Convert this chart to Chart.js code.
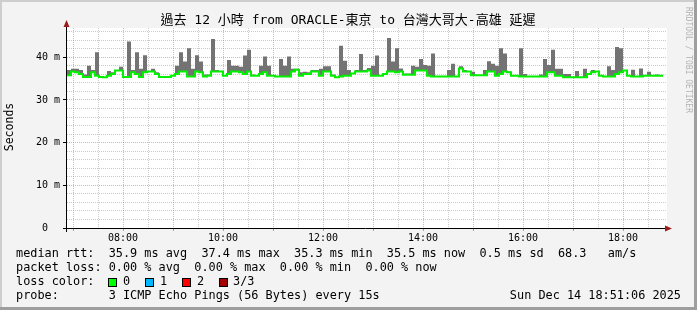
<!DOCTYPE html>
<html><head><meta charset="utf-8">
<script src="https://cdn.jsdelivr.net/npm/chart.js@4/dist/chart.umd.min.js"></script>
<style>html,body{margin:0;padding:0;background:#f3f3f3;}#wrap{width:697px;height:310px;}canvas{display:block;}</style>
</head><body><div id="wrap"><canvas id="c" width="697" height="310"></canvas></div>
<script>
// time axis (hours of day)
const startHour = 6.88;
const endHour = 18.88;
const binHours = 0.08;
// median RTT per bin (ms)
const medianRtt = [
35.8,36.7,36.5,36.1,35.4,35.4,36.5,35.7,35.4,35.3,
35.7,36.1,36.9,36.9,35.4,35.4,36.5,36.1,35.4,36.5,
36.7,36.7,36.1,35.4,35.4,35.4,35.7,36.1,36.7,36.7,
35.5,35.5,36.7,36.5,35.5,35.7,36.7,36.7,36.7,35.7,
36.1,36.7,36.7,36.5,36.1,36.7,35.7,35.7,36.1,36.5,
35.7,35.7,35.5,35.5,35.5,35.5,36.7,37.1,35.7,36.1,
36.1,36.7,36.7,35.7,36.7,36.7,35.7,35.3,35.5,35.7,
35.7,36.2,36.7,36.7,36.7,36.9,35.7,35.7,35.7,36.1,
36.7,36.7,36.5,36.7,35.9,35.9,35.9,36.9,36.9,36.9,
35.7,35.5,35.5,35.5,35.5,35.5,35.5,35.5,37.4,36.7,
36.7,35.8,35.8,35.8,35.8,36.7,36.7,35.7,36.1,36.7,
36.5,35.7,35.7,35.5,35.5,35.5,35.5,35.5,35.5,35.5,
36.5,36.5,35.7,35.7,35.3,35.3,35.3,35.3,35.3,35.3,
36.1,36.5,36.7,35.7,35.5,35.5,35.5,36.1,36.5,36.9,
35.7,35.5,35.5,35.5,35.7,35.7,35.7,35.7,35.7
];
// max RTT per bin (ms) - top of the smoke
const maxRtt = [
37.0,37.3,37.3,37.0,36.0,38.0,37.0,41.2,35.4,35.3,
36.8,36.5,37.0,37.8,35.4,43.7,37.0,41.2,37.3,40.5,
36.7,37.3,36.5,35.5,35.4,35.4,35.8,38.0,41.2,39.0,
42.1,37.3,40.5,39.0,36.0,36.0,44.3,37.0,36.7,35.8,
39.4,38.0,38.0,37.8,40.4,41.8,36.0,35.7,38.0,40.2,
38.0,35.7,35.5,39.6,38.0,40.2,37.3,37.3,36.5,36.6,
36.5,37.0,37.0,37.3,37.9,37.9,36.0,35.3,42.7,39.2,
37.0,36.3,37.0,40.8,37.0,37.5,38.0,40.4,35.7,36.1,
44.5,39.0,42.1,37.4,36.2,36.2,38.0,37.8,39.6,38.2,
38.0,40.9,35.5,35.5,35.6,37.0,38.5,35.5,37.9,37.0,
36.7,36.6,35.8,35.8,37.0,39.1,38.5,38.0,42.1,40.9,
36.7,35.7,35.7,42.1,36.1,35.5,35.5,35.5,36.0,39.6,
38.2,41.8,37.3,37.3,36.1,36.1,35.3,36.8,35.3,37.3,
36.1,37.0,36.7,35.7,35.5,37.9,37.0,42.4,42.1,37.0,
35.7,37.1,35.5,37.4,35.7,36.6,35.7,36.0,35.7
];
const yMax = 46.87;
const yGridTicks = [0,2,4,6,8,10,12,14,16,18,20,22,24,26,28,30,32,34,36,38,40,42,44,46];
const yMajorTicks = [0,10,20,30,40];
const yLabels = {0:'0  ',10:'10 m',20:'20 m',30:'30 m',40:'40 m'};
const xGridTicks = [7,7.5,8,8.5,9,9.5,10,10.5,11,11.5,12,12.5,13,13.5,14,14.5,15,15.5,16,16.5,17,17.5,18,18.5];
const xLabelHours = [8,10,12,14,16,18];

const titleText = '過去 12 小時 from ORACLE-東京 to 台灣大哥大-高雄 延遲';
const legendLines = [
 'median rtt:  35.9 ms avg  37.4 ms max  35.3 ms min  35.5 ms now  0.5 ms sd  68.3   am/s',
 'packet loss: 0.00 % avg  0.00 % max  0.00 % min  0.00 % now',
 'loss color:',
 'probe:       3 ICMP Echo Pings (56 Bytes) every 15s'
];
const lossLabels = ['0','1','2','3/3'];
const lossColors = ['#00ff00','#00b8ff','#ff0000','#a00000'];
const stampText = 'Sun Dec 14 18:51:06 2025';

const GRID = 'rgba(140,140,140,0.45)';
const MGRID = 'rgba(210,70,70,0.45)';
const MONO = '"DejaVu Sans Mono", "Noto Sans CJK TC", monospace';

function steps(vals){
  const pts=[];
  vals.forEach((v,i)=>{const t=startHour+i*binHours; pts.push({x:t,y:v},{x:t+binHours,y:v});});
  return pts;
}
function near(a,b){return Math.abs(a-b)<1e-6;}

const deco = {
  id:'deco',
  beforeDraw(chart){
    const c=chart.ctx, a=chart.chartArea;
    c.save();
    c.fillStyle='#f3f3f3'; c.fillRect(0,0,697,310);
    c.fillStyle='#cecece'; c.fillRect(0,0,697,2); c.fillRect(0,0,2,310);
    c.fillStyle='#9e9e9e'; c.fillRect(694,0,3,310); c.fillRect(0,307,697,3);
    c.fillStyle='#ffffff'; c.fillRect(a.left,a.top,a.right-a.left,a.bottom-a.top);
    c.restore();
  },
  afterDraw(chart){
    const c=chart.ctx, a=chart.chartArea;
    c.save();
    c.strokeStyle='#000'; c.lineWidth=1;
    c.beginPath(); c.moveTo(66.5,a.bottom+4); c.lineTo(66.5,a.top-3); c.stroke();
    c.beginPath(); c.moveTo(63,a.bottom+0.5); c.lineTo(a.right+1,a.bottom+0.5); c.stroke();
    c.fillStyle='#9b1c1c';
    c.beginPath(); c.moveTo(66.5,20); c.lineTo(63.5,27); c.lineTo(69.5,27); c.closePath(); c.fill();
    c.beginPath(); c.moveTo(672,a.bottom+0.5); c.lineTo(665,a.bottom-2.5); c.lineTo(665,a.bottom+3.5); c.closePath(); c.fill();
    c.fillStyle='#000'; c.font='13px '+MONO; c.textAlign='center'; c.textBaseline='middle';
    c.fillText(titleText,348,21);
    c.save(); c.translate(10.5,127); c.rotate(-Math.PI/2);
    c.font='11.5px '+MONO; c.fillText('Seconds',0,0); c.restore();
    c.save(); c.translate(688,60); c.rotate(Math.PI/2);
    c.font='8px '+MONO; c.fillStyle='#b4b4b4'; c.fillText('RRDTOOL / TOBI OETIKER',0,0); c.restore();
    c.font='11.85px '+MONO; c.textAlign='left'; c.fillStyle='#000';
    const ys=[254,268,282,296];
    legendLines.forEach((t,i)=>c.fillText(t,16,ys[i]));
    const bx=[108,145,182,219], lx=[123,160,197,233];
    lossColors.forEach((col,i)=>{
      c.fillStyle=col; c.fillRect(bx[i],278,8,8);
      c.strokeStyle='#000'; c.strokeRect(bx[i]+0.5,278.5,8,8);
      c.fillStyle='#000'; c.fillText(lossLabels[i],lx[i],282);
    });
    c.textAlign='right'; c.fillText(stampText,681,296);
    c.restore();
  }
};

new Chart(document.getElementById('c'),{
  type:'line',
  data:{datasets:[
    {label:'median',data:steps(medianRtt),borderColor:'#00f000',borderWidth:2,pointRadius:0,tension:0,fill:false,borderJoinStyle:'miter'},
    {label:'smoke',data:steps(maxRtt),borderColor:'rgba(0,0,0,0)',borderWidth:0,pointRadius:0,tension:0,backgroundColor:'#737373',fill:'-1'}
  ]},
  options:{
    responsive:false,animation:false,devicePixelRatio:1,
    layout:{padding:{top:28,right:30,left:0,bottom:0}},
    plugins:{legend:{display:false},title:{display:false},tooltip:{enabled:false}},
    scales:{
      x:{type:'linear',min:startHour,max:endHour,
        afterFit(s){s.height=82;},
        afterBuildTicks(s){s.ticks=xGridTicks.map(v=>({value:v}));},
        border:{display:false,dash:[1,1]},
        grid:{drawTicks:true,tickLength:3,tickBorderDash:[],
          color:(ctx)=>{const v=ctx.tick&&ctx.tick.value; if(v==null)return 'rgba(0,0,0,0)'; return near(v,Math.round(v))?MGRID:GRID;},
          tickColor:(ctx)=>{const v=ctx.tick&&ctx.tick.value; return (v!=null&&near(v,Math.round(v)))?'rgba(200,60,60,0.6)':'rgba(0,0,0,0)';}},
        ticks:{autoSkip:false,maxRotation:0,minRotation:0,padding:1,color:'#000',font:{family:MONO,size:10},
          callback:(v)=>{const h=Math.round(v); return (near(v,h)&&xLabelHours.includes(h))?String(h).padStart(2,'0')+':00':'';}}
      },
      y:{type:'linear',min:0,max:yMax,
        afterFit(s){s.width=67;},
        afterBuildTicks(s){s.ticks=yGridTicks.map(v=>({value:v}));},
        border:{display:false,dash:[1,1]},
        grid:{drawTicks:true,tickLength:4,tickBorderDash:[],
          color:(ctx)=>{const v=ctx.tick&&ctx.tick.value; if(v==null||near(v,0))return 'rgba(0,0,0,0)'; return yMajorTicks.some(m=>near(m,v))?MGRID:GRID;},
          tickColor:(ctx)=>{const v=ctx.tick&&ctx.tick.value; return (v!=null&&yMajorTicks.some(m=>near(m,v)))?'#000':'rgba(0,0,0,0)';}},
        ticks:{autoSkip:false,padding:3,color:'#000',font:{family:MONO,size:10},
          callback:(v)=>{const m=yMajorTicks.find(t=>near(t,v)); return m===undefined?'':yLabels[m];}}
      }
    }
  },
  plugins:[deco]
});
</script></body></html>
